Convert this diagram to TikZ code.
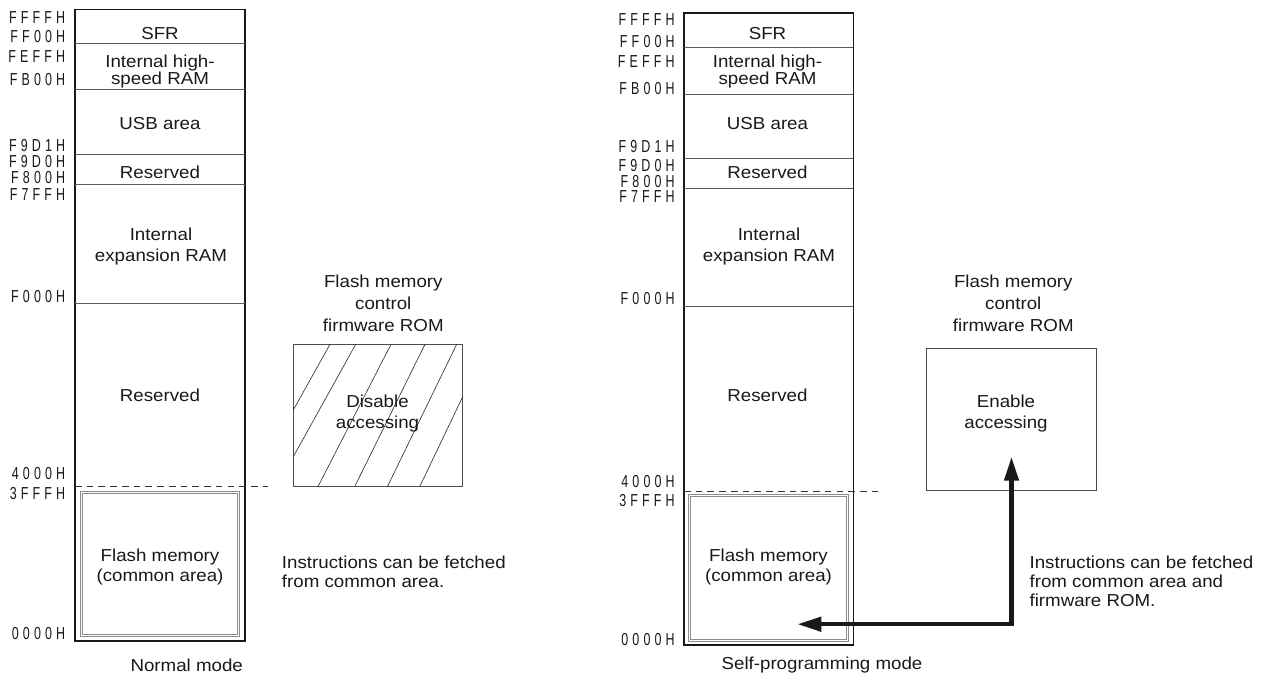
\documentclass[tikz,border=0pt]{standalone}
\usepackage{fontspec}
\setmainfont{Liberation Sans}[FakeStretch=1.08]
\newfontfamily\addrfont{Liberation Sans}[FakeStretch=0.72,LetterSpace=24]
\usetikzlibrary{arrows.meta}

\tikzset{
  maptext/.style={font=\fontsize{13}{#1}\selectfont, align=center, inner sep=0pt, text=black!90},
  maptext/.default=15,
  addr/.style={font=\fontsize{13}{13}\addrfont, anchor=east, inner sep=0pt, text=black!90},
  mapframe/.style={line width=1.1pt, black!90},
  divline/.style={line width=0.55pt, black!65},
  thinbox/.style={line width=0.6pt, black!70},
  flashbox/.style={line width=0.6pt, black!45},
  bound/.style={line width=0.5pt, black!80, dash pattern=on 5pt off 3.8pt},
  hatch/.style={line width=0.45pt, black!85},
  fetch/.style={line width=3.4pt, black!90, {Triangle[length=18pt,width=10.5pt]}-{Triangle[length=18pt,width=10.5pt]}},
}

\begin{document}
\begin{tikzpicture}[x=0.75pt, y=-0.75pt]
  \useasboundingbox (0,0) rectangle (1267,675);

  % normal mode map
  \draw[mapframe] (75,9.5) rectangle (245,641);
  \draw[divline] (75,43.5) -- (245,43.5);
  \draw[divline] (75,89) -- (245,89);
  \draw[divline] (75,154) -- (245,154);
  \draw[divline] (75,184) -- (245,184);
  \draw[divline] (75,303) -- (245,303);
  \draw[bound] (75,486) -- (268,486);
  \draw[flashbox] (80,491.3) rectangle (239.5,636.7);
  \draw[flashbox] (82.2,493.5) rectangle (237.3,634.5);

  \node[addr] (nA1) at (65.5,17.8) {FFFFH};
  \node[addr] (nA2) at (65.5,37) {FF00H};
  \node[addr] (nA3) at (65.5,56.7) {FEFFH};
  \node[addr] (nA4) at (65.5,79.2) {FB00H};
  \node[addr] (nA5) at (65.5,145.3) {F9D1H};
  \node[addr] (nA6) at (65.5,162) {F9D0H};
  \node[addr] (nA7) at (65.5,177.8) {F800H};
  \node[addr] (nA8) at (65.5,194.5) {F7FFH};
  \node[addr] (nA9) at (65.5,297) {F000H};
  \node[addr] (nA10) at (65.5,474) {4000H};
  \node[addr] (nA11) at (65.5,494) {3FFFH};
  \node[addr] (nA12) at (65.5,634) {0000H};

  \node[maptext] (nSFR) at (160,34) {SFR};
  \node[maptext=11.8] (nHRAM) at (160,71.7) {Internal high-\\speed RAM};
  \node[maptext] (nUSB) at (160,123.3) {USB area};
  \node[maptext] (nRes1) at (160,172.5) {Reserved};
  \node[maptext=15.75] (nXRAM) at (161,246.7) {Internal\\expansion RAM};
  \node[maptext] (nRes2) at (160,395) {Reserved};
  \node[maptext=15] (nFlash) at (160,567) {Flash memory\\(common area)};
  \node[maptext] (nMode) at (186.7,665) {Normal mode};

  % firmware ROM, access disabled
  \draw[thinbox] (293.3,344.3) rectangle (462.7,486);
  \draw[hatch] (293.3,410) -- (330,344.3);
  \draw[hatch] (293.3,456.7) -- (355.7,344.3);
  \draw[hatch] (318.3,486) -- (391,344.3);
  \draw[hatch] (355,486) -- (425,344.3);
  \draw[hatch] (387.7,486) -- (456.7,344.3);
  \draw[hatch] (420,486) -- (462.7,396.7);
  \node[maptext=16.5] (nROM) at (383.3,303.7) {Flash memory\\control\\firmware ROM};
  \node[maptext=15.75] (nDis) at (377.5,414) {Disable\\accessing};
  \node[maptext=14.25, align=left, anchor=west] (nNote) at (281.7,571.5)
    {Instructions can be fetched\\from common area.};

  % self-programming mode map
  \draw[mapframe] (684,13) rectangle (853.3,645);
  \draw[divline] (684,47.7) -- (853.3,47.7);
  \draw[divline] (684,94) -- (853.3,94);
  \draw[divline] (684,158.3) -- (853.3,158.3);
  \draw[divline] (684,188.3) -- (853.3,188.3);
  \draw[divline] (684,306) -- (853.3,306);
  \draw[bound] (684,491) -- (878,491);
  \draw[flashbox] (688.3,494) rectangle (848.3,641.3);
  \draw[flashbox] (690.5,496.2) rectangle (846.1,639.1);

  \node[addr] (sA1) at (675,19.5) {FFFFH};
  \node[addr] (sA2) at (675,41.7) {FF00H};
  \node[addr] (sA3) at (675,61.3) {FEFFH};
  \node[addr] (sA4) at (675,88.7) {FB00H};
  \node[addr] (sA5) at (675,146.7) {F9D1H};
  \node[addr] (sA6) at (675,165.3) {F9D0H};
  \node[addr] (sA7) at (675,181.2) {F800H};
  \node[addr] (sA8) at (675,196.2) {F7FFH};
  \node[addr] (sA9) at (675,299) {F000H};
  \node[addr] (sA10) at (675,481.7) {4000H};
  \node[addr] (sA11) at (675,500.8) {3FFFH};
  \node[addr] (sA12) at (675,639.2) {0000H};

  \node[maptext] (sSFR) at (767.5,34) {SFR};
  \node[maptext=11.8] (sHRAM) at (767.5,71.7) {Internal high-\\speed RAM};
  \node[maptext] (sUSB) at (767.5,123.3) {USB area};
  \node[maptext] (sRes1) at (767.5,172.5) {Reserved};
  \node[maptext=15.75] (sXRAM) at (769,246.7) {Internal\\expansion RAM};
  \node[maptext] (sRes2) at (767.5,395) {Reserved};
  \node[maptext=15] (sFlash) at (768.5,567) {Flash memory\\(common area)};
  \node[maptext] (sMode) at (822,665) {Self-programming mode};

  % firmware ROM, access enabled
  \draw[thinbox] (926.7,348.3) rectangle (1096,490);
  \node[maptext=16.5] (sROM) at (1013.3,303.5) {Flash memory\\control\\firmware ROM};
  \node[maptext=15.75] (sEn) at (1006,414) {Enable\\accessing};
  \node[maptext=14.25, align=left, anchor=west] (sNote) at (1029.3,581.2)
    {Instructions can be fetched\\from common area and\\firmware ROM.};

  \coordinate (fetchL) at (797.3,624.2);
  \coordinate (fetchC) at (1011.5,624.2);
  \coordinate (fetchU) at (1011.5,456.7);
  \draw[fetch] (fetchL) -- (fetchC) -- (fetchU);
\end{tikzpicture}
\end{document}
